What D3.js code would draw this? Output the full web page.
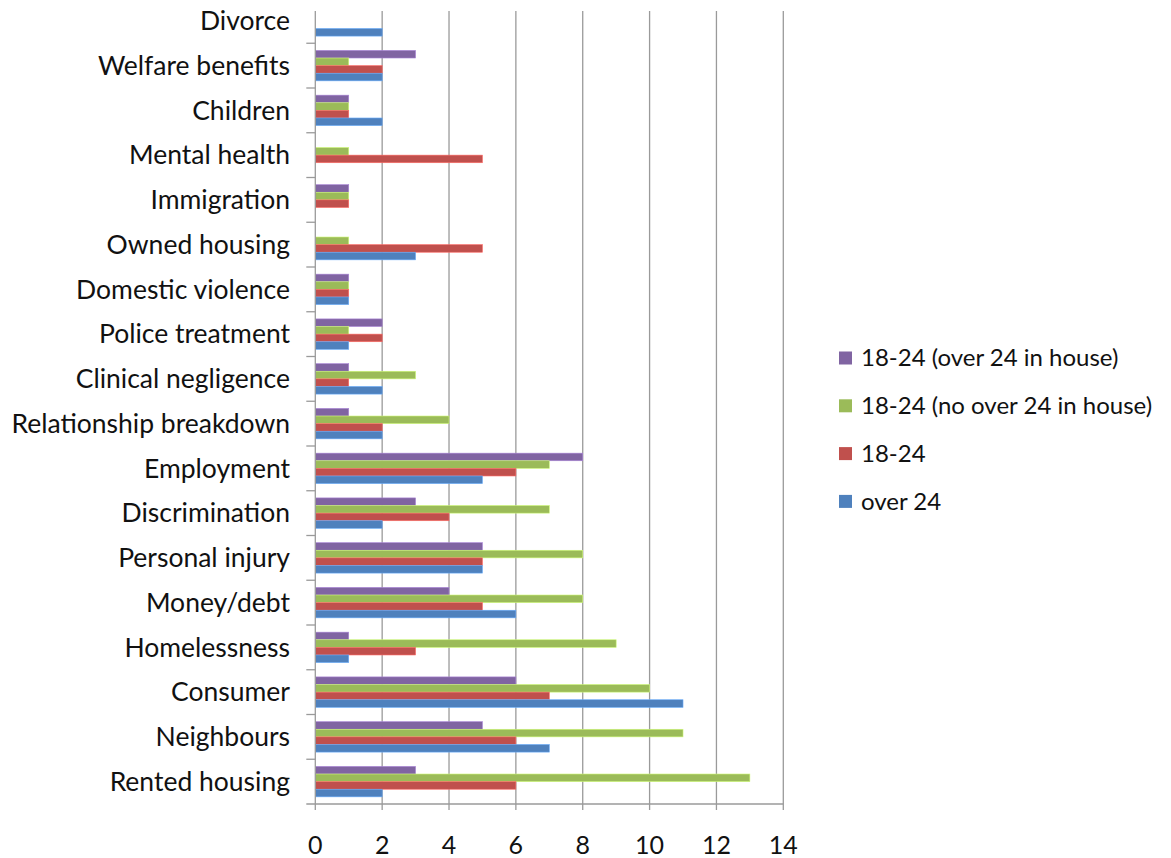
<!DOCTYPE html>
<html>
<head>
<meta charset="utf-8">
<script src="https://cdn.jsdelivr.net/npm/d3@7"></script>
<style>
  html, body { margin: 0; padding: 0; background: #fff; }
  svg { display: block; font-family: Lato, "Open Sans", sans-serif; }
</style>
</head>
<body>
<svg id="chart" width="1171" height="858"></svg>
<script>
// Problem categories, listed top to bottom
const categories = [
  "Divorce", "Welfare benefits", "Children", "Mental health", "Immigration",
  "Owned housing", "Domestic violence", "Police treatment", "Clinical negligence",
  "Relationship breakdown", "Employment", "Discrimination", "Personal injury",
  "Money/debt", "Homelessness", "Consumer", "Neighbours", "Rented housing"
];

// Series names (legend order, top to bottom)
const seriesNames = [
  "18-24 (over 24 in house)",
  "18-24 (no over 24 in house)",
  "18-24",
  "over 24"
];
const seriesColors = ["#8064A2", "#9BBB59", "#C0504D", "#4F81BD"];

// Counts per category, same order as categories
const over24InHouse   = [0, 3, 1, 0, 1, 0, 1, 2, 1, 1, 8, 3, 5, 4, 1, 6, 5, 3];
const noOver24InHouse = [0, 1, 1, 1, 1, 1, 1, 1, 3, 4, 7, 7, 8, 8, 9, 10, 11, 13];
const age18to24       = [0, 2, 1, 5, 1, 5, 1, 2, 1, 2, 6, 4, 5, 5, 3, 7, 6, 6];
const over24          = [2, 2, 2, 0, 0, 3, 1, 1, 2, 2, 5, 2, 5, 6, 1, 11, 7, 2];

const xTicks = [0, 2, 4, 6, 8, 10, 12, 14];

const seriesValues = [over24InHouse, noOver24InHouse, age18to24, over24];

const svg = d3.select("#chart");
const axisColor = "#9a9a9a";
const textColor = "#111";

const x = d3.scaleLinear().domain([0, 14]).range([315.3, 783.3]);
const y = d3.scaleBand().domain(categories).range([-1.5, 804]).padding(0);
// Four bars per category with a gap above and below the group
const yInner = d3.scaleBand().domain(seriesNames)
  .range([0, y.bandwidth()]).paddingOuter(0.94).paddingInner(0);

// Vertical gridlines
svg.append("g")
  .selectAll("line")
  .data(xTicks.slice(1))
  .join("line")
  .attr("x1", d => x(d)).attr("x2", d => x(d))
  .attr("y1", 11).attr("y2", 804)
  .attr("stroke", axisColor).attr("stroke-width", 1.3);

// Bars
const rows = categories.map((c, i) => ({
  category: c,
  values: seriesNames.map((s, j) => ({ series: s, color: seriesColors[j], value: seriesValues[j][i] }))
}));

svg.append("g")
  .selectAll("g")
  .data(rows)
  .join("g")
  .attr("transform", d => `translate(0,${y(d.category)})`)
  .selectAll("rect")
  .data(d => d.values.filter(v => v.value > 0))
  .join("rect")
  .attr("x", x(0))
  .attr("y", d => yInner(d.series))
  .attr("width", d => x(d.value) - x(0))
  .attr("height", yInner.bandwidth())
  .attr("fill", d => d.color)
  .attr("stroke", d => d3.color(d.color).brighter(0.8))
  .attr("stroke-width", 0.6);

// Y axis: line, tick marks at band boundaries, category labels
const yAxis = svg.append("g");
yAxis.append("line")
  .attr("x1", x(0)).attr("x2", x(0))
  .attr("y1", 11).attr("y2", 804)
  .attr("stroke", axisColor).attr("stroke-width", 1.3);
yAxis.selectAll("line.tick")
  .data(categories.slice(1))
  .join("line")
  .attr("class", "tick")
  .attr("x1", x(0) - 9).attr("x2", x(0))
  .attr("y1", d => y(d)).attr("y2", d => y(d))
  .attr("stroke", axisColor).attr("stroke-width", 1.3);
yAxis.selectAll("text")
  .data(categories)
  .join("text")
  .attr("x", 290)
  .attr("y", d => y(d) + y.bandwidth() / 2)
  .attr("dy", "0.35em")
  .attr("text-anchor", "end")
  .attr("font-size", 26.5)
  .attr("fill", textColor)
  .text(d => d);

// X axis
const xAxis = svg.append("g");
xAxis.append("line")
  .attr("x1", x(0) - 9).attr("x2", x(14))
  .attr("y1", 804).attr("y2", 804)
  .attr("stroke", axisColor).attr("stroke-width", 1.3);
xAxis.selectAll("line.tick")
  .data(xTicks)
  .join("line")
  .attr("class", "tick")
  .attr("x1", d => x(d)).attr("x2", d => x(d))
  .attr("y1", 804).attr("y2", 810)
  .attr("stroke", axisColor).attr("stroke-width", 1.3);
xAxis.selectAll("text")
  .data(xTicks)
  .join("text")
  .attr("x", d => x(d))
  .attr("y", 845)
  .attr("dy", "0.35em")
  .attr("text-anchor", "middle")
  .attr("font-size", 25)
  .attr("fill", textColor)
  .text(d => d);

// Legend
const legend = svg.append("g")
  .selectAll("g")
  .data(seriesNames)
  .join("g")
  .attr("transform", (d, i) => `translate(839,${358 + i * 47.8})`);
legend.append("rect")
  .attr("x", 0).attr("y", -6.5)
  .attr("width", 13).attr("height", 13)
  .attr("fill", (d, i) => seriesColors[i]);
legend.append("text")
  .attr("x", 22).attr("y", 0)
  .attr("dy", "0.35em")
  .attr("font-size", 24)
  .attr("fill", textColor)
  .text(d => d);
</script>
</body>
</html>
